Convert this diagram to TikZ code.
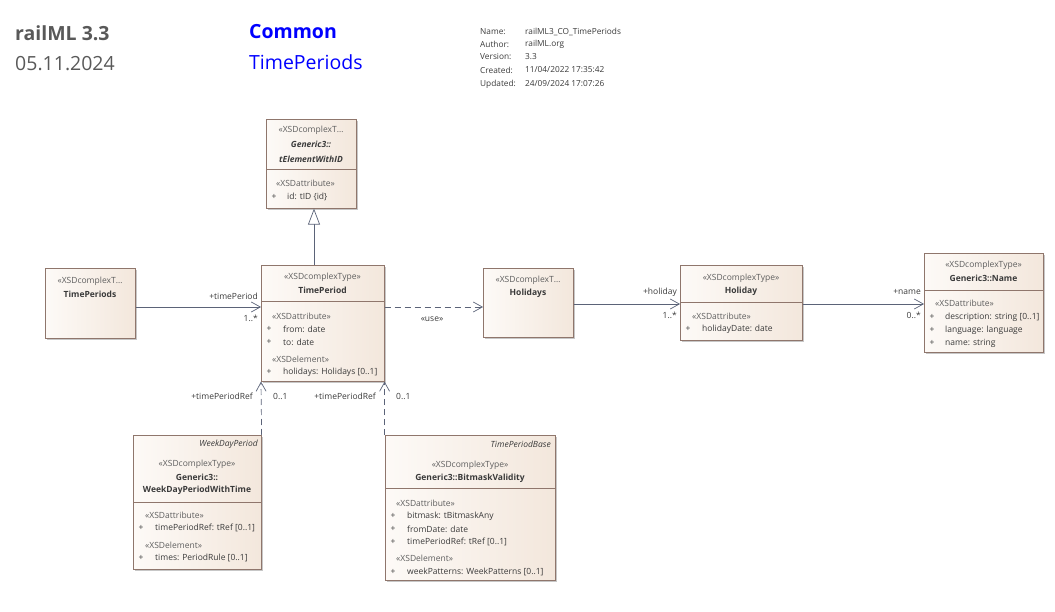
\documentclass[tikz,border=0pt]{standalone}
\usepackage{fontspec}
\setmainfont{Open Sans}
\usetikzlibrary{arrows.meta,shadows}
\definecolor{boxL}{HTML}{FDFAF7}
\definecolor{boxR}{HTML}{F3E7DC}
\definecolor{boxB}{HTML}{8F766C}
\definecolor{conn}{HTML}{5B6378}
\definecolor{txt}{HTML}{3A3A3A}
\definecolor{stc}{HTML}{5E5E5E}
\definecolor{hdr}{HTML}{595959}
\begin{document}
\begin{tikzpicture}[x=1pt,y=-1pt,
  box/.style={draw=boxB, line width=0.6pt, left color=boxL, right color=boxR,
    drop shadow={shadow xshift=2pt,shadow yshift=-2pt,fill=black!22,opacity=1},
    anchor=north west, inner sep=0},
  div/.style={draw=boxB, line width=0.6pt},
  fs/.style={font=\fontsize{8.5}{9}\selectfont},
  st/.style={fs, text=stc, inner sep=0},
  tt/.style={font=\fontsize{8.5}{9}\selectfont\bfseries, text=txt, inner sep=0},
  tti/.style={font=\fontsize{8.5}{9}\selectfont\bfseries\itshape, text=txt, inner sep=0},
  itl/.style={font=\fontsize{8.5}{9}\selectfont\itshape, text=txt, inner sep=0, anchor=east},
  attr/.style={fs, text=txt, inner sep=0, anchor=west},
  pl/.style={fs, text=txt, inner sep=0},
  lbl/.style={fs, text=txt, inner sep=0},
  meta/.style={anchor=west, inner sep=0, text=txt, font=\fontsize{8.3}{9}\selectfont},
  assoc/.style={draw=conn, line width=0.7pt, -{Straight Barb[length=9pt,width=10pt,line width=0.7pt]}},
  dep/.style={draw=conn, line width=0.7pt, dash pattern=on 6pt off 4pt, -{Straight Barb[length=9pt,width=10pt,line width=0.7pt]}},
  gen/.style={draw=conn, line width=0.7pt, -{Triangle[open,length=16pt,width=12pt,fill=white,line width=0.7pt]}}
]
\useasboundingbox (0,0) rectangle (1055,612);

% header
\node[anchor=west, inner sep=0, text=hdr, font=\fontsize{19.5}{22}\selectfont\bfseries] (h1) at (15,33) {railML 3.3};
\node[anchor=west, inner sep=0, text=hdr, font=\fontsize{19.5}{22}\selectfont] (h2) at (15,64) {05.11.2024};
\node[anchor=west, inner sep=0, text=blue, font=\fontsize{19.5}{22}\selectfont\bfseries] (h3) at (249,32) {Common};
\node[anchor=west, inner sep=0, text=blue, font=\fontsize{19.5}{22}\selectfont] (h4) at (249,62) {TimePeriods};
\node[meta] (mk1) at (480,32) {Name:};
\node[meta] (mv1) at (525,32) {railML3\_CO\_TimePeriods};
\node[meta] (mk2) at (480,44) {Author:};
\node[meta] (mv2) at (525,44) {railML.org};
\node[meta] (mk3) at (480,57) {Version:};
\node[meta] (mv3) at (525,57) {3.3};
\node[meta] (mk4) at (480,70) {Created:};
\node[meta] (mv4) at (525,70) {11/04/2022 17:35:42};
\node[meta] (mk5) at (480,84) {Updated:};
\node[meta] (mv5) at (525,84) {24/09/2024 17:07:26};

% tElementWithID
\node[box, minimum width=90pt, minimum height=89pt] (tel) at (266,119) {};
\draw[div] (266,169) -- (356,169);
\node[st] (tel1) at (311,130) {«XSDcomplexT…};
\node[tti] (tel2) at (311,144) {Generic3::};
\node[tti] (tel3) at (311,159) {tElementWithID};
\node[st, anchor=west] (tel4) at (276,183) {«XSDattribute»};
\node[pl] (tel5) at (274,197) {+};
\node[attr] (tel6) at (287,197) {id: tID \{id\}};

% TimePeriods
\node[box, minimum width=90pt, minimum height=70pt] (tps) at (45,268) {};
\node[st] (tps1) at (90,281) {«XSDcomplexT…};
\node[tt] (tps2) at (90,294) {TimePeriods};

% TimePeriod
\node[box, minimum width=123pt, minimum height=116pt] (tp) at (261,265) {};
\draw[div] (261,301) -- (384,301);
\node[st] (tp1) at (322.5,277) {«XSDcomplexType»};
\node[tt] (tp2) at (322.5,290) {TimePeriod};
\node[st, anchor=west] (tp3) at (272,316) {«XSDattribute»};
\node[pl] (tp4) at (269,329) {+};
\node[attr] (tp5) at (283,329) {from: date};
\node[pl] (tp6) at (269,342) {+};
\node[attr] (tp7) at (283,342) {to: date};
\node[st, anchor=west] (tp8) at (272,359) {«XSDelement»};
\node[pl] (tp9) at (269,372) {+};
\node[attr] (tp10) at (283,372) {holidays: Holidays [0..1]};

% Holidays
\node[box, minimum width=90pt, minimum height=69pt] (hs) at (483,268) {};
\node[st] (hs1) at (528,280) {«XSDcomplexT…};
\node[tt] (hs2) at (528,293) {Holidays};

% Holiday
\node[box, minimum width=122pt, minimum height=75pt] (hd) at (680,265) {};
\draw[div] (680,302) -- (802,302);
\node[st] (hd1) at (741,278) {«XSDcomplexType»};
\node[tt] (hd2) at (741,291) {Holiday};
\node[st, anchor=west] (hd3) at (692,316) {«XSDattribute»};
\node[pl] (hd4) at (688,329) {+};
\node[attr] (hd5) at (702,329) {holidayDate: date};

% Generic3::Name
\node[box, minimum width=119pt, minimum height=99pt] (nm) at (924,253) {};
\draw[div] (924,290) -- (1043,290);
\node[st] (nm1) at (983.5,265) {«XSDcomplexType»};
\node[tt] (nm2) at (983.5,278) {Generic3::Name};
\node[st, anchor=west] (nm3) at (935,303) {«XSDattribute»};
\node[pl] (nm4) at (932,317) {+};
\node[attr] (nm5) at (945,317) {description: string [0..1]};
\node[pl] (nm6) at (932,330) {+};
\node[attr] (nm7) at (945,330) {language: language};
\node[pl] (nm8) at (932,343) {+};
\node[attr] (nm9) at (945,343) {name: string};

% WeekDayPeriod
\node[box, minimum width=128pt, minimum height=134pt] (wd) at (133,435) {};
\draw[div] (133,502) -- (261,502);
\node[itl] (wd0) at (258,444) {WeekDayPeriod};
\node[st] (wd1) at (197,464) {«XSDcomplexType»};
\node[tt] (wd2) at (197,477) {Generic3::};
\node[tt] (wd3) at (197,490) {WeekDayPeriodWithTime};
\node[st, anchor=west] (wd4) at (145,515) {«XSDattribute»};
\node[pl] (wd5) at (141,528) {+};
\node[attr] (wd6) at (155,528) {timePeriodRef: tRef [0..1]};
\node[st, anchor=west] (wd7) at (145,545) {«XSDelement»};
\node[pl] (wd8) at (141,558) {+};
\node[attr] (wd9) at (155,558) {times: PeriodRule [0..1]};

% BitmaskValidity
\node[box, minimum width=170pt, minimum height=145pt] (bm) at (385,435) {};
\draw[div] (385,488) -- (555,488);
\node[itl] (bm0) at (551,444) {TimePeriodBase};
\node[st] (bm1) at (470,465) {«XSDcomplexType»};
\node[tt] (bm2) at (470,478) {Generic3::BitmaskValidity};
\node[st, anchor=west] (bm3) at (396,503) {«XSDattribute»};
\node[pl] (bm4) at (393,516) {+};
\node[attr] (bm5) at (407,516) {bitmask: tBitmaskAny};
\node[pl] (bm6) at (393,529) {+};
\node[attr] (bm7) at (407,529) {fromDate: date};
\node[pl] (bm8) at (393,542) {+};
\node[attr] (bm9) at (407,542) {timePeriodRef: tRef [0..1]};
\node[st, anchor=west] (bm10) at (396,558) {«XSDelement»};
\node[pl] (bm11) at (393,572) {+};
\node[attr] (bm12) at (407,572) {weekPatterns: WeekPatterns [0..1]};

% connectors
\draw[gen] (tp.north -| 314,0) -- (tel.south -| 314,0);
\draw[assoc] (tps.east |- 0,307) -- (tp.west |- 0,307);
\node[lbl, anchor=east] (l1) at (258,296) {+timePeriod};
\node[lbl, anchor=east] (l2) at (258,318) {1..*};
\draw[dep] (tp.east |- 0,307) -- (hs.west |- 0,307);
\node[lbl] (l3) at (432,319) {«use»};
\draw[assoc] (hs.east |- 0,304) -- (hd.west |- 0,304);
\node[lbl, anchor=east] (l4) at (677,292) {+holiday};
\node[lbl, anchor=east] (l5) at (677,315) {1..*};
\draw[assoc] (hd.east |- 0,304) -- (nm.west |- 0,304);
\node[lbl, anchor=east] (l6) at (921,292) {+name};
\node[lbl, anchor=east] (l7) at (921,315) {0..*};
\draw[dep] (wd.north east) -- (tp.south west);
\node[lbl, anchor=east] (l8) at (253,396) {+timePeriodRef};
\node[lbl, anchor=west] (l9) at (273,396) {0..1};
\draw[dep] (tp.south east |- bm.north) -- (tp.south east);
\node[lbl, anchor=east] (l10) at (376,396) {+timePeriodRef};
\node[lbl, anchor=west] (l11) at (396,396) {0..1};
\end{tikzpicture}
\end{document}
